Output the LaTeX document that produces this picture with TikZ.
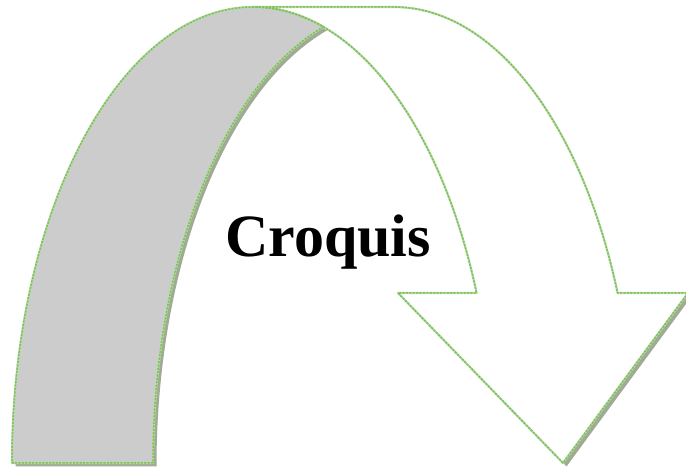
\documentclass[tikz,border=0pt]{standalone}
\usepackage{fontspec}
\setmainfont{Liberation Serif}
\begin{document}
\begin{tikzpicture}[x=1pt,y=1pt,
  shadowfill/.style={fill={rgb,255:red,160;green,171;blue,148}, draw=none},
  bandfill/.style={fill={rgb,255:red,204;green,204;blue,204}},
  frontfill/.style={fill=white},
  outlinebase/.style={draw={rgb,255:red,185;green,222;blue,165}, line width=2.2pt, line join=round},
  outlinedash/.style={draw={rgb,255:red,128;green,190;blue,98}, line width=1.5pt, dash pattern=on 2.2pt off 1.2pt, line join=round},
  label/.style={font=\bfseries\fontsize{60}{70}\selectfont, text=black, inner sep=0pt}]
\useasboundingbox (0,0) rectangle (686,471);
\clip (0,0) rectangle (686,471);
% geometry: ellipse A centre (253,8), ellipse B centre (394,8), radii 241 x 456
\coordinate (tip) at (563,8);
\coordinate (lsh) at (398,178);
\coordinate (ish) at (476.6,178);
\coordinate (osh) at (617.6,178);
\coordinate (rsh) at (688,178);
\coordinate (topA) at (253,464);
\coordinate (topB) at (394,464);
\coordinate (cross) at (323.5,444.1);
\coordinate (innerfoot) at (153,8);
\coordinate (outerfoot) at (12,8);
\def\frontpath{(tip) -- (lsh) -- (ish)
   arc[start angle=21.89, end angle=90, x radius=241pt, y radius=456pt]
   -- (topB)
   arc[start angle=90, end angle=21.89, x radius=241pt, y radius=456pt]
   -- (rsh) -- cycle}
\def\backpath{(cross)
   arc[start angle=107.01, end angle=180, x radius=241pt, y radius=456pt]
   -- (outerfoot)
   arc[start angle=180, end angle=72.99, x radius=241pt, y radius=456pt]
   -- cycle}
% shadow (back band and arrow head only)
\path[shadowfill, transform canvas={shift={(3.5pt,-3.5pt)}}] (tip) -- (lsh) -- (rsh) -- cycle;
\path[shadowfill, transform canvas={shift={(3.5pt,-3.5pt)}}] \backpath;
% shape
\path[frontfill] \frontpath;
\path[bandfill] \backpath;
\path[outlinebase] \frontpath;
\path[outlinebase] \backpath;
\path[outlinedash] \frontpath;
\path[outlinedash] \backpath;
\node[label, anchor=base] (title) at (328,214) {Croquis};
\end{tikzpicture}
\end{document}
